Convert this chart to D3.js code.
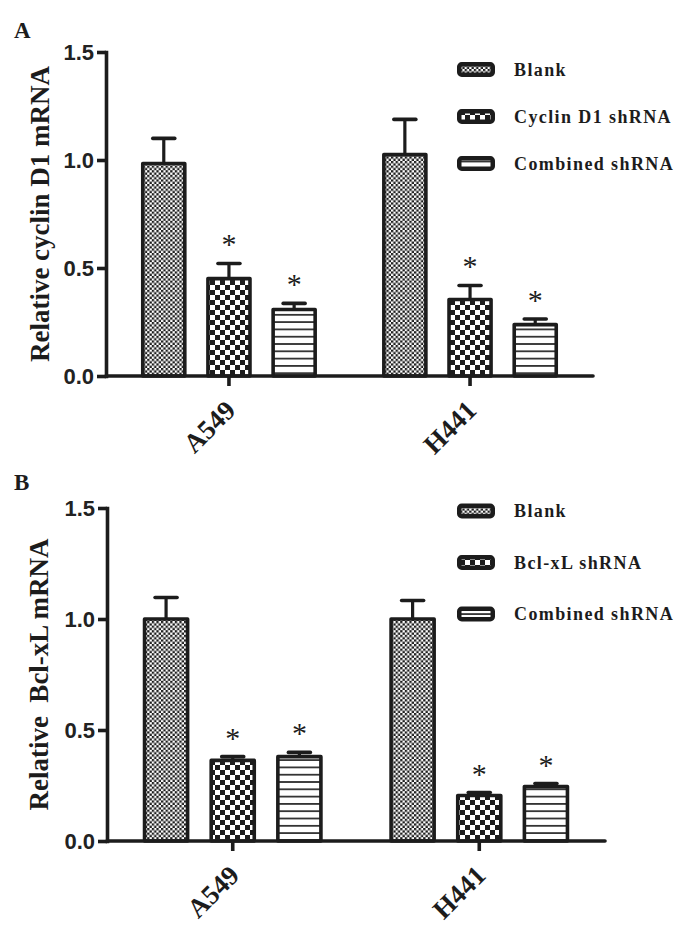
<!DOCTYPE html>
<html><head><meta charset="utf-8">
<script src="https://cdn.jsdelivr.net/npm/d3@7"></script>
<style>body{margin:0;background:#fff}</style>
</head><body><svg id="c" width="688" height="926"></svg>
<script>
// ---------- data ----------
const groups = ["A549", "H441"];
const yTicks = [0, 0.5, 1.0, 1.5];

// Panel A
const seriesA = ["Blank", "Cyclin D1 shRNA", "Combined shRNA"];
const blankA = [0.984, 1.025];
const blankErrA = [0.116, 0.163];
const cyclinA = [0.451, 0.354];
const cyclinErrA = [0.070, 0.065];
const combinedA = [0.308, 0.238];
const combinedErrA = [0.028, 0.026];
const sigA = [false, true, true];

// Panel B
const seriesB = ["Blank", "Bcl-xL shRNA", "Combined shRNA"];
const blankB = [1.0, 1.0];
const blankErrB = [0.097, 0.083];
const bclB = [0.363, 0.205];
const bclErrB = [0.017, 0.013];
const combinedB = [0.38, 0.245];
const combinedErrB = [0.019, 0.014];
const sigB = [false, true, true];

// ---------- drawing ----------
const INK = "#1c1c1c";
const SERIF = "'Liberation Serif','Times New Roman',serif";
const SANS = "'Liberation Sans',Arial,sans-serif";
const svg = d3.select("#c");
const defs = svg.append("defs");

// fine checker (Blank)
const p0 = defs.append("pattern").attr("id", "pat0").attr("patternUnits", "userSpaceOnUse")
  .attr("width", 4.6).attr("height", 4.6);
p0.append("rect").attr("width", 4.6).attr("height", 4.6).attr("fill", "#fff");
p0.append("rect").attr("width", 2.3).attr("height", 2.3).attr("fill", INK);
p0.append("rect").attr("x", 2.3).attr("y", 2.3).attr("width", 2.3).attr("height", 2.3).attr("fill", INK);
// coarse checker (shRNA)
const p1 = defs.append("pattern").attr("id", "pat1").attr("patternUnits", "userSpaceOnUse")
  .attr("width", 10).attr("height", 10);
p1.append("rect").attr("width", 10).attr("height", 10).attr("fill", "#fff");
p1.append("rect").attr("width", 5).attr("height", 5).attr("fill", INK);
p1.append("rect").attr("x", 5).attr("y", 5).attr("width", 5).attr("height", 5).attr("fill", INK);
// horizontal lines (Combined)
const p2 = defs.append("pattern").attr("id", "pat2").attr("patternUnits", "userSpaceOnUse")
  .attr("width", 8).attr("height", 7.3);
p2.append("rect").attr("width", 8).attr("height", 7.3).attr("fill", "#fff");
p2.append("rect").attr("width", 8).attr("height", 1.8).attr("fill", "#333");

function drawPanel(p) {
  const g = svg.append("g");
  const y = d3.scaleLinear().domain([0, 1.5]).range([p.bottom, p.top]);
  const x0 = d3.scaleBand().domain(groups).range([p.left, p.right]).paddingInner(0.27).paddingOuter(0.145);
  const x1 = d3.scaleBand().domain(p.series).range([0, x0.bandwidth()]).paddingInner(0.3);
  const sw = 3.6;

  const rows = [];
  groups.forEach((grp, gi) => {
    p.series.forEach((s, si) => {
      rows.push({ grp, s, si, v: p.values[si][gi], e: p.errors[si][gi], sig: p.sig[si] });
    });
  });

  // bars
  g.selectAll("rect.bar").data(rows).join("rect").attr("class", "bar")
    .attr("x", d => x0(d.grp) + x1(d.s) + sw / 2)
    .attr("width", x1.bandwidth() - sw)
    .attr("y", d => y(d.v))
    .attr("height", d => y(0) - y(d.v))
    .attr("fill", d => `url(#pat${d.si})`)
    .attr("stroke", INK).attr("stroke-width", sw).attr("stroke-linejoin", "round");

  // error bars
  const cx = d => x0(d.grp) + x1(d.s) + x1.bandwidth() / 2;
  g.selectAll("line.stem").data(rows).join("line").attr("class", "stem")
    .attr("x1", cx).attr("x2", cx)
    .attr("y1", d => y(d.v)).attr("y2", d => y(d.v + d.e))
    .attr("stroke", INK).attr("stroke-width", 3.2);
  g.selectAll("line.cap").data(rows).join("line").attr("class", "cap")
    .attr("x1", d => cx(d) - 11).attr("x2", d => cx(d) + 11)
    .attr("y1", d => y(d.v + d.e)).attr("y2", d => y(d.v + d.e))
    .attr("stroke", INK).attr("stroke-width", 3.6).attr("stroke-linecap", "round");

  // asterisks
  g.selectAll("text.sig").data(rows.filter(d => d.sig)).join("text").attr("class", "sig")
    .attr("x", cx).attr("y", d => y(d.v + d.e) - 9)
    .attr("text-anchor", "middle")
    .style("font-family", SERIF).style("font-size", "30px").attr("fill", INK)
    .text("*");

  // y axis
  const ya = g.append("g").attr("transform", `translate(${p.left},0)`)
    .call(d3.axisLeft(y).tickValues(yTicks).tickFormat(d3.format(".1f")).tickSize(9).tickSizeOuter(0).tickPadding(3));
  ya.select(".domain").attr("stroke", INK).attr("stroke-width", 3.6).attr("stroke-linecap", "square");
  ya.selectAll(".tick line").attr("stroke", INK).attr("stroke-width", 3.6);
  ya.selectAll(".tick text").style("font-family", SANS).style("font-size", "22px")
    .style("font-weight", "bold").attr("fill", "#222");

  // x axis
  g.append("line").attr("x1", p.left).attr("x2", p.right).attr("y1", y(0)).attr("y2", y(0))
    .attr("stroke", INK).attr("stroke-width", 3.6).attr("stroke-linecap", "round");
  g.selectAll("line.xt").data(groups).join("line").attr("class", "xt")
    .attr("x1", d => x0(d) + x0.bandwidth() / 2).attr("x2", d => x0(d) + x0.bandwidth() / 2)
    .attr("y1", y(0)).attr("y2", y(0) + 10)
    .attr("stroke", INK).attr("stroke-width", 3.6);
  g.selectAll("text.xl").data(groups).join("text").attr("class", "xl")
    .attr("transform", (d, i) => `translate(${x0(d) + x0.bandwidth() / 2 + 8},${y(0) + p.xLabelDy[i]}) rotate(-45)`)
    .attr("text-anchor", "end")
    .style("font-family", SERIF).style("font-size", "27px").style("font-weight", "bold").attr("fill", INK)
    .text(d => d);

  // y title
  g.append("text")
    .attr("transform", `translate(${p.titleX},${(p.top + p.bottom) / 2 + 0}) rotate(-90)`)
    .attr("text-anchor", "middle")
    .style("font-family", SERIF).style("font-size", "27px").style("font-weight", "bold").attr("fill", INK)
    .style("white-space", "pre")
    .text(p.yTitle);

  // panel letter
  g.append("text").attr("x", 14).attr("y", p.letterY)
    .style("font-family", SERIF).style("font-size", "23px").style("font-weight", "bold").attr("fill", INK)
    .text(p.letter);

  // legend
  const lg = g.append("g");
  p.series.forEach((s, i) => {
    const ry = p.legendY + i * p.legendStep;
    lg.append("rect").attr("x", p.legendX + 2.25).attr("y", ry - 5.25)
      .attr("width", 33.5).attr("height", 10.5).attr("rx", 2.5)
      .attr("fill", `url(#pat${i})`).attr("stroke", INK).attr("stroke-width", 4.5);
    lg.append("text").attr("x", p.legendX + 57).attr("y", ry + 6)
      .style("font-family", SERIF).style("font-size", "18px").style("font-weight", "bold")
      .style("letter-spacing", "1.4px").attr("fill", INK)
      .text(s);
  });
}

drawPanel({
  letter: "A", letterY: 38,
  top: 52, bottom: 376, left: 106, right: 593,
  series: seriesA, values: [blankA, cyclinA, combinedA], errors: [blankErrA, cyclinErrA, combinedErrA], sig: sigA,
  yTitle: "Relative cyclin D1 mRNA", titleX: 49,
  xLabelDy: [36, 36],
  legendX: 457, legendY: 69.5, legendStep: 47
});
drawPanel({
  letter: "B", letterY: 490,
  top: 508, bottom: 841, left: 107, right: 605,
  series: seriesB, values: [blankB, bclB, combinedB], errors: [blankErrB, bclErrB, combinedErrB], sig: sigB,
  yTitle: "Relative  Bcl-xL mRNA", titleX: 48,
  xLabelDy: [36, 36],
  legendX: 457, legendY: 511, legendStep: 51.5
});
</script>
</body></html>
